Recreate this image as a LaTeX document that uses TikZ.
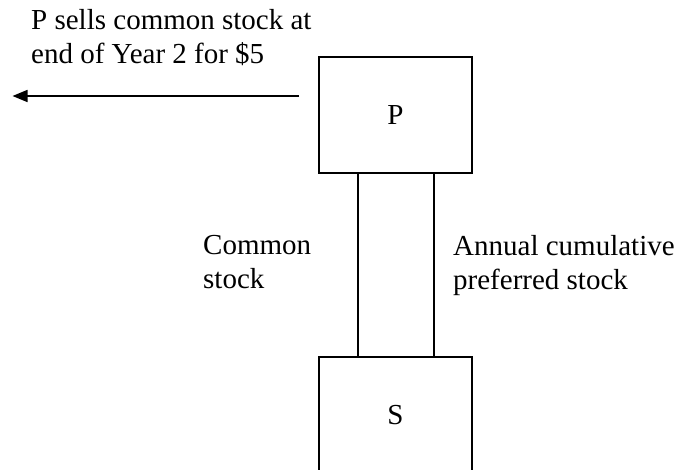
\documentclass[tikz,border=0pt]{standalone}
\usepackage{fontspec}
\setmainfont{Liberation Serif}
\usetikzlibrary{arrows.meta}
\begin{document}
\begin{tikzpicture}[x=1pt,y=-1pt,
  entity/.style={draw,line width=1.8pt,minimum width=153pt,minimum height=116pt,
    inner sep=0pt,font=\fontsize{29}{33.5}\selectfont},
  txt/.style={align=left,inner sep=0pt,anchor=north west,
    font=\fontsize{29}{33.5}\selectfont},
  link/.style={line width=1.8pt},
  flow/.style={line width=1.6pt,-{Triangle[length=15pt,width=12pt]}}]
\useasboundingbox (0,0) rectangle (679,470);

% parent and subsidiary
\node[entity] (P) at (395.5,115) {P};
\node[entity] (S) at (395.5,415) {S};

% two holdings between them
\draw[link] ([xshift=-37.5pt]P.south) -- ([xshift=-37.5pt]S.north);
\draw[link] ([xshift=38.5pt]P.south) -- ([xshift=38.5pt]S.north);

% sale of the common stock
\coordinate (start) at ([xshift=-19pt]P.west);
\coordinate (sale) at (12.5,96);
\draw[flow] (start |- sale) -- (sale);

% captions
\node[txt] (saletxt) at (31,9.2) {P sells common stock at\\end of Year 2 for \$5};
\node[txt] (common) at (203,235.4) {Common\\stock};
\node[txt] (pref) at (453,235.2) {Annual cumulative\\preferred stock};
\end{tikzpicture}
\end{document}
